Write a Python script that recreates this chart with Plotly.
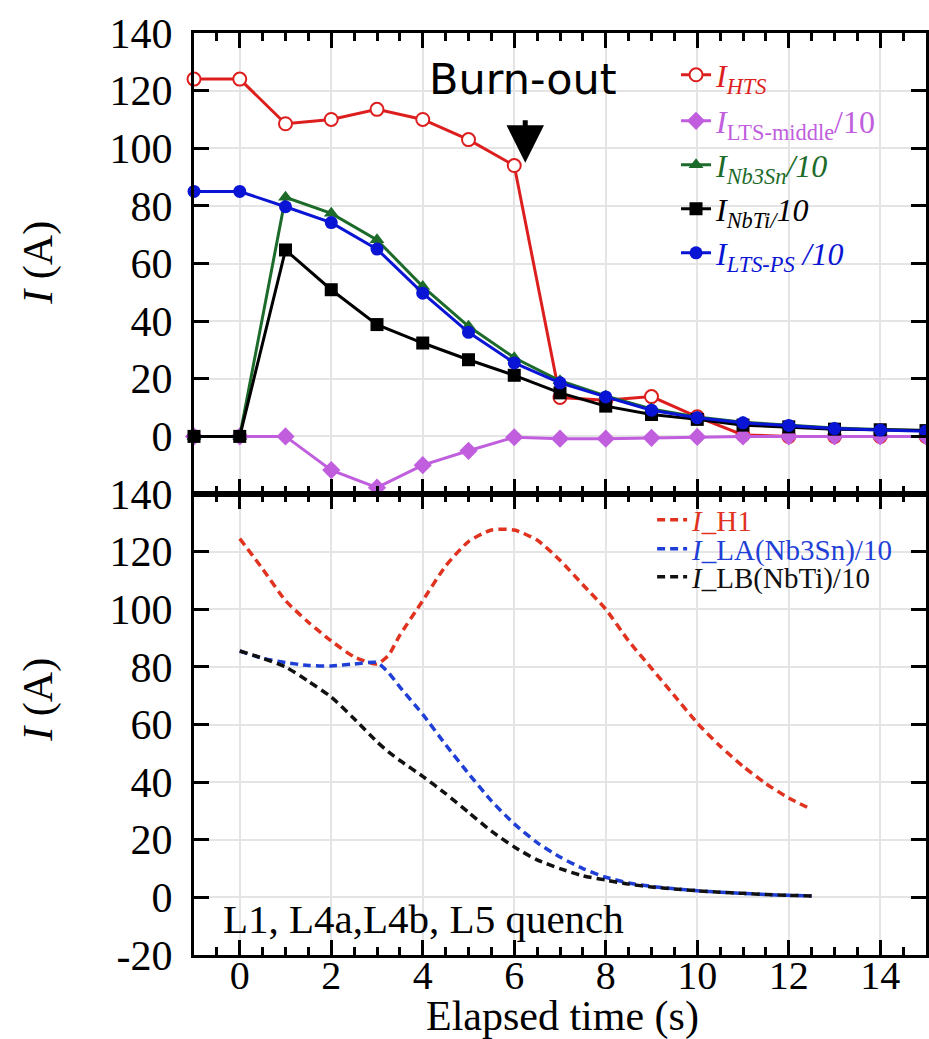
import plotly.graph_objects as go

# ---------------- data ----------------
t_top = [-1, 0, 1, 2, 3, 4, 5, 6, 7, 8, 9, 10, 11, 12, 13, 14, 15]
i_hts = [124, 124, 108.5, 110, 113.5, 110, 103, 94, 13.5, 12.5, 13.8, 6.8, 0.5, 0, 0, 0, 0]
i_lts_middle = [0, 0, 0, -11.7, -17.8, -10, -5, -0.3, -0.8, -0.8, -0.5, -0.2, 0, 0, 0, 0, 0]
i_nb3sn = [0, 0, 83, 77.4, 68.2, 52, 38.2, 27.3, 19.3, 14, 9.5, 6.7, 4.9, 3.9, 2.9, 2.4, 2]
i_nbti = [0, 0, 64.7, 50.9, 38.8, 32.4, 26.6, 21.2, 15.1, 10.5, 7.6, 5.9, 3.9, 3.3, 2.5, 2.3, 2]
i_lts_ps = [85, 85, 79.7, 74.2, 65, 49.7, 36.1, 25.5, 18.6, 13.7, 9.1, 6.5, 4.7, 3.8, 2.7, 2.2, 1.8]

t_bot = [0, 0.5, 1, 1.5, 2, 2.5, 3, 3.25, 3.5, 4, 4.5, 5, 5.5, 6, 6.5, 7, 7.5, 8,
         8.5, 9, 9.5, 10, 10.5, 11, 11.5, 12, 12.5]
i_h1 = [124.5, 114, 103, 95.5, 89, 83.5, 81, 84, 91, 103, 115, 123.5, 127.5, 127.5,
        124, 117, 108.5, 100, 89, 79.5, 70, 60.5, 52.5, 45.5, 39.5, 34.5, 30.5]
i_la = [85.5, 83, 81.5, 80.5, 80.3, 81, 81.5, 78, 73, 63.5, 53, 43, 33.5, 25.5,
        19, 14, 10, 7, 5, 3.8, 3, 2.3, 1.8, 1.4, 1.0, 0.7, 0.5]
i_lb = [85.5, 83, 80, 75, 69.5, 62, 54, 50.5, 47.5, 42, 36, 29.5, 23, 17.5,
        13, 10, 7.5, 6, 4.6, 3.6, 2.9, 2.3, 1.8, 1.4, 1.0, 0.7, 0.5]

x_ticks = [0, 2, 4, 6, 8, 10, 12, 14]
y_ticks_top = [0, 20, 40, 60, 80, 100, 120, 140]
y_ticks_bot = [-20, 0, 20, 40, 60, 80, 100, 120, 140]
y_text_bot = ["-20", "0", "20", "40", "60", "80", "100", "120", "140"]

# ---------------- layout geometry ----------------
W, H = 929, 1039
ML, MR, MT, MB = 194, 0, 33, 84
PW = W - ML - MR
PH = H - MT - MB


def px_x(px):
    return (px - ML) / PW


def px_y(py):
    return (H - MB - py) / PH


SERIF = "Liberation Serif, Times New Roman, serif"
RED = "#dd1e1e"
PURPLE = "#c05ede"
GREEN = "#1d6b2a"
BLACK = "#000000"
BLUE = "#0a14d4"

fig = go.Figure()

top_series = [
    ("<i>I<sub>HTS</sub></i>", i_hts, RED,
     dict(symbol="circle", size=13, color="white", line=dict(color=RED, width=2)), "legend"),
    ("<i>I</i><sub>LTS-middle</sub>/10", i_lts_middle, PURPLE,
     dict(symbol="diamond", size=14, color=PURPLE, line=dict(width=0)), "legend2"),
    ("<i>I<sub>Nb3Sn</sub>/10</i>", i_nb3sn, GREEN,
     dict(symbol="triangle-up", size=13, color=GREEN, line=dict(width=0)), "legend3"),
    ("<i>I<sub>NbTi/</sub>10</i>", i_nbti, BLACK,
     dict(symbol="square", size=13, color=BLACK, line=dict(width=0)), "legend4"),
    ("<i>I<sub>LTS-PS</sub> /10</i>", i_lts_ps, BLUE,
     dict(symbol="circle", size=13, color=BLUE, line=dict(width=0)), "legend5"),
]
for name, vals, col, mk, lg in top_series:
    fig.add_trace(go.Scatter(
        x=t_top, y=vals, name=name, mode="lines+markers",
        line=dict(color=col, width=3), marker=mk,
        xaxis="x", yaxis="y", cliponaxis=False, legend=lg))

bot_series = [
    ("<i>I</i>_H1", i_h1, "#e0321e", "legend6"),
    ("<i>I</i>_LA(Nb3Sn)/10", i_la, "#1f3fd6", "legend7"),
    ("<i>I</i>_LB(NbTi)/10", i_lb, "#111111", "legend8"),
]
for name, vals, col, lg in bot_series:
    fig.add_trace(go.Scatter(
        x=t_bot, y=vals, name=name, mode="lines",
        line=dict(color=col, width=3.5, dash="8px,5px", shape="spline", smoothing=0.6),
        xaxis="x2", yaxis="y2", legend=lg))

axis_common = dict(
    showline=True, linewidth=3, linecolor="black", mirror="ticks",
    ticks="inside", ticklen=15, tickwidth=3, tickcolor="black",
    showgrid=True, gridcolor="#e4e4e4", gridwidth=1.5, zeroline=False,
    tickfont=dict(family=SERIF, size=42, color="black"),
)
xa = dict(axis_common, range=[-1, 15], tickmode="array", tickvals=x_ticks,
          minor=dict(dtick=0.5, tick0=0, ticks="inside", ticklen=8, tickwidth=2.5,
                     tickcolor="black", showgrid=False))

legend_rows_top = [75, 121, 165, 209, 253]
legend_rows_bot = [520, 549, 577]
legend_cols = [RED, PURPLE, GREEN, BLACK, BLUE]
bot_cols = ["#e0321e", "#1f3fd6", "#111111"]

legends = {}
for k, (py, col) in enumerate(zip(legend_rows_top, legend_cols)):
    key = "legend" if k == 0 else "legend%d" % (k + 1)
    legends[key] = dict(x=px_x(678), y=px_y(py), xanchor="left", yanchor="middle",
                        bgcolor="rgba(0,0,0,0)", borderwidth=0,
                        font=dict(family=SERIF, size=32, color=col))
for k, (py, col) in enumerate(zip(legend_rows_bot, bot_cols)):
    key = "legend%d" % (k + 6)
    legends[key] = dict(x=px_x(654), y=px_y(py), xanchor="left", yanchor="middle",
                        bgcolor="rgba(0,0,0,0)", borderwidth=0,
                        font=dict(family=SERIF, size=29, color=col))

fig.update_layout(
    width=W, height=H,
    margin=dict(l=ML, r=MR, t=MT, b=MB),
    paper_bgcolor="white", plot_bgcolor="white",
    font=dict(family=SERIF, color="black"),
    showlegend=True,
    xaxis=dict(xa, domain=[0, 1], anchor="y", showticklabels=False),
    xaxis2=dict(xa, domain=[0, 1], anchor="y2", showticklabels=True,
                ticklabelstandoff=-17,
                tickfont=dict(family=SERIF, size=40, color="black")),
    yaxis=dict(axis_common, domain=[0.5, 1], anchor="x", range=[-20, 140],
               tickmode="array", tickvals=y_ticks_top, ticklabelstandoff=10),
    yaxis2=dict(axis_common, domain=[0, 0.5], anchor="x2", range=[-20, 140],
                tickmode="array", tickvals=y_ticks_bot, ticktext=y_text_bot,
                ticklabelstandoff=10),
    **legends,
)

annotations = [
    dict(text="<i>I</i> (A)", xref="paper", yref="paper", x=px_x(37), y=px_y(263),
         textangle=-90, showarrow=False, xanchor="center", yanchor="middle",
         font=dict(family=SERIF, size=42, color="black")),
    dict(text="<i>I</i> (A)", xref="paper", yref="paper", x=px_x(37), y=px_y(700),
         textangle=-90, showarrow=False, xanchor="center", yanchor="middle",
         font=dict(family=SERIF, size=42, color="black")),
    dict(text="Elapsed time (s)", xref="paper", yref="paper", x=px_x(564), y=px_y(1017),
         showarrow=False, xanchor="center", yanchor="middle",
         font=dict(family=SERIF, size=42, color="black")),
    dict(text="Burn-out", xref="x", yref="y", x=6.2, y=124, showarrow=False,
         xanchor="center", yanchor="middle",
         font=dict(family="DejaVu Sans", size=43, color="black")),
    dict(text="", xref="x", yref="y", x=6.24, y=95, ax=0, ay=-44,
         showarrow=True, arrowhead=2, arrowsize=1.5, arrowwidth=5, arrowcolor="black"),
    dict(text="L1, L4a,L4b, L5 quench", xref="x2", yref="y2", x=-0.4, y=-7.5,
         showarrow=False, xanchor="left", yanchor="middle",
         font=dict(family=SERIF, size=41, color="black")),
]
fig.update_layout(annotations=annotations)

fig.write_html("out.html")
